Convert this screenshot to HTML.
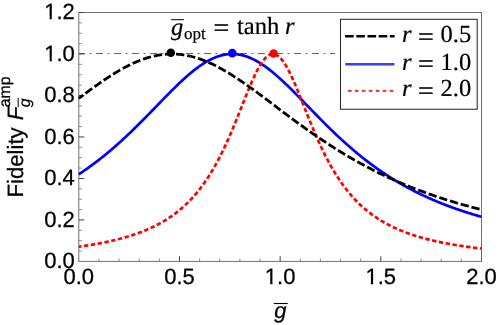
<!DOCTYPE html>
<html><head><meta charset="utf-8">
<style>
html,body{margin:0;padding:0;background:#fff;}
svg{display:block;will-change:transform}
text{text-rendering:geometricPrecision}
.sans{font-family:"Liberation Sans",sans-serif;font-size:22px;fill:#000;stroke:#000;stroke-width:0.25px}
.serif{font-family:"Liberation Serif",serif;font-size:24.5px;fill:#000;stroke:#000;stroke-width:0.2px}
</style></head><body>
<svg width="498" height="325" viewBox="0 0 498 325">
<rect width="498" height="325" fill="#fff"/>
<!-- reference line -->
<line x1="78.80" y1="53.5" x2="335" y2="53.5" stroke="#666" stroke-width="1" stroke-dasharray="7 4.5 2 4.5" stroke-dashoffset="0.8"/>
<!-- frame -->
<rect x="78.80" y="12.50" width="402.70" height="248.90" fill="none" stroke="#707070" stroke-width="1"/>
<line x1="78.80" y1="251.03" x2="82.00" y2="251.03" stroke="#666" stroke-width="0.7"/><line x1="78.80" y1="240.66" x2="82.00" y2="240.66" stroke="#666" stroke-width="0.7"/><line x1="78.80" y1="230.29" x2="82.00" y2="230.29" stroke="#666" stroke-width="0.7"/><line x1="78.80" y1="219.92" x2="84.30" y2="219.92" stroke="#444" stroke-width="1"/><line x1="78.80" y1="209.55" x2="82.00" y2="209.55" stroke="#666" stroke-width="0.7"/><line x1="78.80" y1="199.18" x2="82.00" y2="199.18" stroke="#666" stroke-width="0.7"/><line x1="78.80" y1="188.81" x2="82.00" y2="188.81" stroke="#666" stroke-width="0.7"/><line x1="78.80" y1="178.44" x2="84.30" y2="178.44" stroke="#444" stroke-width="1"/><line x1="78.80" y1="168.07" x2="82.00" y2="168.07" stroke="#666" stroke-width="0.7"/><line x1="78.80" y1="157.70" x2="82.00" y2="157.70" stroke="#666" stroke-width="0.7"/><line x1="78.80" y1="147.33" x2="82.00" y2="147.33" stroke="#666" stroke-width="0.7"/><line x1="78.80" y1="136.96" x2="84.30" y2="136.96" stroke="#444" stroke-width="1"/><line x1="78.80" y1="126.59" x2="82.00" y2="126.59" stroke="#666" stroke-width="0.7"/><line x1="78.80" y1="116.22" x2="82.00" y2="116.22" stroke="#666" stroke-width="0.7"/><line x1="78.80" y1="105.85" x2="82.00" y2="105.85" stroke="#666" stroke-width="0.7"/><line x1="78.80" y1="95.48" x2="84.30" y2="95.48" stroke="#444" stroke-width="1"/><line x1="78.80" y1="85.11" x2="82.00" y2="85.11" stroke="#666" stroke-width="0.7"/><line x1="78.80" y1="74.74" x2="82.00" y2="74.74" stroke="#666" stroke-width="0.7"/><line x1="78.80" y1="64.37" x2="82.00" y2="64.37" stroke="#666" stroke-width="0.7"/><line x1="78.80" y1="54.00" x2="84.30" y2="54.00" stroke="#444" stroke-width="1"/><line x1="78.80" y1="43.63" x2="82.00" y2="43.63" stroke="#666" stroke-width="0.7"/><line x1="78.80" y1="33.26" x2="82.00" y2="33.26" stroke="#666" stroke-width="0.7"/><line x1="78.80" y1="22.89" x2="82.00" y2="22.89" stroke="#666" stroke-width="0.7"/><line x1="78.80" y1="12.52" x2="84.30" y2="12.52" stroke="#444" stroke-width="1"/><line x1="98.94" y1="261.40" x2="98.94" y2="258.40" stroke="#666" stroke-width="0.7"/><line x1="119.07" y1="261.40" x2="119.07" y2="258.40" stroke="#666" stroke-width="0.7"/><line x1="139.21" y1="261.40" x2="139.21" y2="258.40" stroke="#666" stroke-width="0.7"/><line x1="159.34" y1="261.40" x2="159.34" y2="258.40" stroke="#666" stroke-width="0.7"/><line x1="179.47" y1="261.40" x2="179.47" y2="256.20" stroke="#444" stroke-width="1"/><line x1="199.61" y1="261.40" x2="199.61" y2="258.40" stroke="#666" stroke-width="0.7"/><line x1="219.75" y1="261.40" x2="219.75" y2="258.40" stroke="#666" stroke-width="0.7"/><line x1="239.88" y1="261.40" x2="239.88" y2="258.40" stroke="#666" stroke-width="0.7"/><line x1="260.01" y1="261.40" x2="260.01" y2="258.40" stroke="#666" stroke-width="0.7"/><line x1="280.15" y1="261.40" x2="280.15" y2="256.20" stroke="#444" stroke-width="1"/><line x1="300.29" y1="261.40" x2="300.29" y2="258.40" stroke="#666" stroke-width="0.7"/><line x1="320.42" y1="261.40" x2="320.42" y2="258.40" stroke="#666" stroke-width="0.7"/><line x1="340.56" y1="261.40" x2="340.56" y2="258.40" stroke="#666" stroke-width="0.7"/><line x1="360.69" y1="261.40" x2="360.69" y2="258.40" stroke="#666" stroke-width="0.7"/><line x1="380.82" y1="261.40" x2="380.82" y2="256.20" stroke="#444" stroke-width="1"/><line x1="400.96" y1="261.40" x2="400.96" y2="258.40" stroke="#666" stroke-width="0.7"/><line x1="421.10" y1="261.40" x2="421.10" y2="258.40" stroke="#666" stroke-width="0.7"/><line x1="441.23" y1="261.40" x2="441.23" y2="258.40" stroke="#666" stroke-width="0.7"/><line x1="461.37" y1="261.40" x2="461.37" y2="258.40" stroke="#666" stroke-width="0.7"/>
<!-- curves -->
<path d="M78.80,174.30 L79.81,173.63 L80.81,172.96 L81.82,172.28 L82.83,171.60 L83.83,170.91 L84.84,170.21 L85.85,169.51 L86.85,168.80 L87.86,168.09 L88.87,167.37 L89.87,166.65 L90.88,165.91 L91.89,165.18 L92.89,164.43 L93.90,163.68 L94.91,162.93 L95.91,162.17 L96.92,161.40 L97.93,160.62 L98.94,159.84 L99.94,159.06 L100.95,158.26 L101.96,157.47 L102.96,156.66 L103.97,155.85 L104.98,155.03 L105.98,154.21 L106.99,153.38 L108.00,152.54 L109.00,151.70 L110.01,150.85 L111.02,150.00 L112.02,149.14 L113.03,148.27 L114.04,147.40 L115.04,146.52 L116.05,145.64 L117.06,144.75 L118.06,143.85 L119.07,142.95 L120.08,142.04 L121.08,141.13 L122.09,140.21 L123.10,139.29 L124.10,138.36 L125.11,137.42 L126.12,136.48 L127.12,135.54 L128.13,134.58 L129.14,133.63 L130.14,132.67 L131.15,131.70 L132.16,130.73 L133.16,129.75 L134.17,128.77 L135.18,127.79 L136.18,126.80 L137.19,125.81 L138.20,124.81 L139.20,123.81 L140.21,122.80 L141.22,121.79 L142.23,120.78 L143.23,119.76 L144.24,118.75 L145.25,117.72 L146.25,116.70 L147.26,115.67 L148.27,114.65 L149.27,113.61 L150.28,112.58 L151.29,111.55 L152.29,110.51 L153.30,109.47 L154.31,108.44 L155.31,107.40 L156.32,106.36 L157.33,105.32 L158.33,104.28 L159.34,103.24 L160.35,102.20 L161.35,101.16 L162.36,100.13 L163.37,99.10 L164.37,98.06 L165.38,97.03 L166.39,96.01 L167.39,94.98 L168.40,93.96 L169.41,92.94 L170.41,91.93 L171.42,90.92 L172.43,89.92 L173.43,88.92 L174.44,87.93 L175.45,86.94 L176.45,85.96 L177.46,84.99 L178.47,84.02 L179.47,83.06 L180.48,82.11 L181.49,81.17 L182.50,80.23 L183.50,79.31 L184.51,78.39 L185.52,77.49 L186.52,76.59 L187.53,75.71 L188.54,74.84 L189.54,73.98 L190.55,73.13 L191.56,72.30 L192.56,71.48 L193.57,70.67 L194.58,69.88 L195.58,69.10 L196.59,68.34 L197.60,67.59 L198.60,66.86 L199.61,66.14 L200.62,65.44 L201.62,64.76 L202.63,64.10 L203.64,63.45 L204.64,62.82 L205.65,62.21 L206.66,61.62 L207.66,61.05 L208.67,60.50 L209.68,59.97 L210.68,59.46 L211.69,58.97 L212.70,58.51 L213.70,58.06 L214.71,57.64 L215.72,57.24 L216.72,56.86 L217.73,56.50 L218.74,56.17 L219.75,55.86 L220.75,55.57 L221.76,55.31 L222.77,55.07 L223.77,54.85 L224.78,54.66 L225.79,54.49 L226.79,54.35 L227.80,54.23 L228.81,54.14 L229.81,54.07 L230.82,54.02 L231.83,54.00 L232.83,54.01 L233.84,54.03 L234.85,54.09 L235.85,54.17 L236.86,54.27 L237.87,54.40 L238.87,54.55 L239.88,54.73 L240.89,54.93 L241.89,55.15 L242.90,55.40 L243.91,55.67 L244.91,55.97 L245.92,56.29 L246.93,56.63 L247.93,56.99 L248.94,57.38 L249.95,57.79 L250.95,58.22 L251.96,58.67 L252.97,59.15 L253.97,59.65 L254.98,60.16 L255.99,60.70 L256.99,61.26 L258.00,61.83 L259.01,62.43 L260.01,63.05 L261.02,63.68 L262.03,64.33 L263.04,65.01 L264.04,65.69 L265.05,66.40 L266.06,67.12 L267.06,67.86 L268.07,68.61 L269.08,69.38 L270.08,70.16 L271.09,70.96 L272.10,71.77 L273.10,72.60 L274.11,73.44 L275.12,74.29 L276.12,75.15 L277.13,76.03 L278.14,76.92 L279.14,77.81 L280.15,78.72 L281.16,79.64 L282.16,80.57 L283.17,81.51 L284.18,82.45 L285.18,83.41 L286.19,84.37 L287.20,85.34 L288.20,86.31 L289.21,87.30 L290.22,88.29 L291.22,89.28 L292.23,90.28 L293.24,91.29 L294.24,92.30 L295.25,93.31 L296.26,94.33 L297.26,95.35 L298.27,96.38 L299.28,97.41 L300.29,98.44 L301.29,99.47 L302.30,100.50 L303.31,101.54 L304.31,102.58 L305.32,103.62 L306.33,104.66 L307.33,105.69 L308.34,106.73 L309.35,107.77 L310.35,108.81 L311.36,109.85 L312.37,110.89 L313.37,111.92 L314.38,112.96 L315.39,113.99 L316.39,115.02 L317.40,116.05 L318.41,117.07 L319.41,118.10 L320.42,119.12 L321.43,120.13 L322.43,121.15 L323.44,122.16 L324.45,123.17 L325.45,124.17 L326.46,125.17 L327.47,126.17 L328.47,127.16 L329.48,128.15 L330.49,129.13 L331.49,130.11 L332.50,131.08 L333.51,132.05 L334.51,133.02 L335.52,133.97 L336.53,134.93 L337.53,135.88 L338.54,136.82 L339.55,137.76 L340.56,138.70 L341.56,139.62 L342.57,140.55 L343.58,141.46 L344.58,142.37 L345.59,143.28 L346.60,144.18 L347.60,145.07 L348.61,145.96 L349.62,146.84 L350.62,147.72 L351.63,148.59 L352.64,149.45 L353.64,150.31 L354.65,151.16 L355.66,152.01 L356.66,152.85 L357.67,153.68 L358.68,154.51 L359.68,155.33 L360.69,156.14 L361.70,156.95 L362.70,157.76 L363.71,158.55 L364.72,159.34 L365.72,160.13 L366.73,160.91 L367.74,161.68 L368.74,162.44 L369.75,163.20 L370.76,163.96 L371.76,164.70 L372.77,165.44 L373.78,166.18 L374.78,166.91 L375.79,167.63 L376.80,168.35 L377.80,169.06 L378.81,169.77 L379.82,170.47 L380.82,171.16 L381.83,171.85 L382.84,172.53 L383.85,173.20 L384.85,173.87 L385.86,174.54 L386.87,175.20 L387.87,175.85 L388.88,176.50 L389.89,177.14 L390.89,177.77 L391.90,178.40 L392.91,179.03 L393.91,179.65 L394.92,180.26 L395.93,180.87 L396.93,181.47 L397.94,182.07 L398.95,182.66 L399.95,183.25 L400.96,183.83 L401.97,184.41 L402.97,184.98 L403.98,185.54 L404.99,186.11 L405.99,186.66 L407.00,187.21 L408.01,187.76 L409.01,188.30 L410.02,188.84 L411.03,189.37 L412.03,189.90 L413.04,190.42 L414.05,190.94 L415.05,191.45 L416.06,191.96 L417.07,192.46 L418.07,192.96 L419.08,193.45 L420.09,193.94 L421.09,194.43 L422.10,194.91 L423.11,195.39 L424.12,195.86 L425.12,196.33 L426.13,196.79 L427.14,197.25 L428.14,197.70 L429.15,198.16 L430.16,198.60 L431.16,199.05 L432.17,199.49 L433.18,199.92 L434.18,200.35 L435.19,200.78 L436.20,201.20 L437.20,201.62 L438.21,202.04 L439.22,202.45 L440.22,202.86 L441.23,203.26 L442.24,203.67 L443.24,204.06 L444.25,204.46 L445.26,204.85 L446.26,205.23 L447.27,205.62 L448.28,206.00 L449.28,206.37 L450.29,206.75 L451.30,207.12 L452.30,207.48 L453.31,207.85 L454.32,208.21 L455.32,208.56 L456.33,208.92 L457.34,209.27 L458.34,209.62 L459.35,209.96 L460.36,210.30 L461.37,210.64 L462.37,210.97 L463.38,211.31 L464.39,211.64 L465.39,211.96 L466.40,212.29 L467.41,212.61 L468.41,212.92 L469.42,213.24 L470.43,213.55 L471.43,213.86 L472.44,214.17 L473.45,214.47 L474.45,214.78 L475.46,215.07 L476.47,215.37 L477.47,215.66 L478.48,215.96 L479.49,216.24 L480.49,216.53 L481.50,216.81" fill="none" stroke="#0000ff" stroke-width="2.7"/>
<path d="M78.80,246.75 L79.81,246.60 L80.81,246.46 L81.82,246.31 L82.83,246.17 L83.83,246.02 L84.84,245.86 L85.85,245.71 L86.85,245.55 L87.86,245.39 L88.87,245.23 L89.87,245.06 L90.88,244.90 L91.89,244.73 L92.89,244.56 L93.90,244.38 L94.91,244.20 L95.91,244.03 L96.92,243.84 L97.93,243.66 L98.94,243.47 L99.94,243.28 L100.95,243.08 L101.96,242.89 L102.96,242.69 L103.97,242.48 L104.98,242.28 L105.98,242.07 L106.99,241.85 L108.00,241.64 L109.00,241.42 L110.01,241.19 L111.02,240.97 L112.02,240.74 L113.03,240.50 L114.04,240.26 L115.04,240.02 L116.05,239.77 L117.06,239.52 L118.06,239.27 L119.07,239.01 L120.08,238.74 L121.08,238.48 L122.09,238.20 L123.10,237.93 L124.10,237.64 L125.11,237.36 L126.12,237.06 L127.12,236.77 L128.13,236.47 L129.14,236.16 L130.14,235.84 L131.15,235.53 L132.16,235.20 L133.16,234.87 L134.17,234.53 L135.18,234.19 L136.18,233.84 L137.19,233.49 L138.20,233.13 L139.20,232.76 L140.21,232.38 L141.22,232.00 L142.23,231.61 L143.23,231.21 L144.24,230.81 L145.25,230.40 L146.25,229.98 L147.26,229.55 L148.27,229.11 L149.27,228.67 L150.28,228.22 L151.29,227.75 L152.29,227.28 L153.30,226.80 L154.31,226.31 L155.31,225.81 L156.32,225.30 L157.33,224.78 L158.33,224.25 L159.34,223.71 L160.35,223.16 L161.35,222.59 L162.36,222.02 L163.37,221.43 L164.37,220.83 L165.38,220.22 L166.39,219.60 L167.39,218.96 L168.40,218.31 L169.41,217.64 L170.41,216.96 L171.42,216.27 L172.43,215.56 L173.43,214.84 L174.44,214.10 L175.45,213.35 L176.45,212.58 L177.46,211.79 L178.47,210.98 L179.47,210.16 L180.48,209.32 L181.49,208.46 L182.50,207.58 L183.50,206.69 L184.51,205.77 L185.52,204.83 L186.52,203.87 L187.53,202.89 L188.54,201.89 L189.54,200.87 L190.55,199.82 L191.56,198.75 L192.56,197.66 L193.57,196.54 L194.58,195.39 L195.58,194.22 L196.59,193.03 L197.60,191.81 L198.60,190.56 L199.61,189.28 L200.62,187.97 L201.62,186.63 L202.63,185.27 L203.64,183.87 L204.64,182.45 L205.65,180.99 L206.66,179.50 L207.66,177.98 L208.67,176.42 L209.68,174.83 L210.68,173.21 L211.69,171.55 L212.70,169.86 L213.70,168.13 L214.71,166.37 L215.72,164.57 L216.72,162.73 L217.73,160.86 L218.74,158.95 L219.75,157.01 L220.75,155.02 L221.76,153.00 L222.77,150.95 L223.77,148.86 L224.78,146.73 L225.79,144.57 L226.79,142.37 L227.80,140.14 L228.81,137.88 L229.81,135.58 L230.82,133.25 L231.83,130.89 L232.83,128.51 L233.84,126.10 L234.85,123.66 L235.85,121.20 L236.86,118.72 L237.87,116.23 L238.87,113.72 L239.88,111.20 L240.89,108.67 L241.89,106.14 L242.90,103.60 L243.91,101.07 L244.91,98.55 L245.92,96.04 L246.93,93.55 L247.93,91.08 L248.94,88.64 L249.95,86.24 L250.95,83.87 L251.96,81.55 L252.97,79.28 L253.97,77.07 L254.98,74.92 L255.99,72.84 L256.99,70.84 L258.00,68.93 L259.01,67.10 L260.01,65.37 L261.02,63.75 L262.03,62.23 L263.04,60.82 L264.04,59.54 L265.05,58.38 L266.06,57.34 L267.06,56.44 L268.07,55.68 L269.08,55.06 L270.08,54.58 L271.09,54.24 L272.10,54.05 L273.10,54.00 L274.11,54.10 L275.12,54.35 L276.12,54.75 L277.13,55.28 L278.14,55.96 L279.14,56.78 L280.15,57.73 L281.16,58.81 L282.16,60.02 L283.17,61.36 L284.18,62.81 L285.18,64.37 L286.19,66.04 L287.20,67.80 L288.20,69.66 L289.21,71.61 L290.22,73.64 L291.22,75.75 L292.23,77.92 L293.24,80.15 L294.24,82.45 L295.25,84.79 L296.26,87.17 L297.26,89.59 L298.27,92.04 L299.28,94.52 L300.29,97.02 L301.29,99.53 L302.30,102.06 L303.31,104.59 L304.31,107.12 L305.32,109.65 L306.33,112.18 L307.33,114.70 L308.34,117.20 L309.35,119.69 L310.35,122.16 L311.36,124.61 L312.37,127.04 L313.37,129.44 L314.38,131.81 L315.39,134.16 L316.39,136.48 L317.40,138.76 L318.41,141.01 L319.41,143.23 L320.42,145.41 L321.43,147.56 L322.43,149.68 L323.44,151.75 L324.45,153.79 L325.45,155.80 L326.46,157.77 L327.47,159.70 L328.47,161.59 L329.48,163.45 L330.49,165.27 L331.49,167.06 L332.50,168.81 L333.51,170.52 L334.51,172.20 L335.52,173.84 L336.53,175.45 L337.53,177.03 L338.54,178.57 L339.55,180.08 L340.56,181.56 L341.56,183.01 L342.57,184.42 L343.58,185.80 L344.58,187.16 L345.59,188.48 L346.60,189.78 L347.60,191.04 L348.61,192.28 L349.62,193.50 L350.62,194.68 L351.63,195.84 L352.64,196.98 L353.64,198.08 L354.65,199.17 L355.66,200.23 L356.66,201.27 L357.67,202.28 L358.68,203.28 L359.68,204.25 L360.69,205.20 L361.70,206.13 L362.70,207.04 L363.71,207.93 L364.72,208.80 L365.72,209.65 L366.73,210.48 L367.74,211.30 L368.74,212.10 L369.75,212.88 L370.76,213.64 L371.76,214.39 L372.77,215.12 L373.78,215.84 L374.78,216.54 L375.79,217.23 L376.80,217.90 L377.80,218.56 L378.81,219.21 L379.82,219.84 L380.82,220.46 L381.83,221.07 L382.84,221.66 L383.85,222.24 L384.85,222.81 L385.86,223.37 L386.87,223.92 L387.87,224.46 L388.88,224.99 L389.89,225.50 L390.89,226.01 L391.90,226.50 L392.91,226.99 L393.91,227.47 L394.92,227.93 L395.93,228.39 L396.93,228.84 L397.94,229.28 L398.95,229.72 L399.95,230.14 L400.96,230.56 L401.97,230.97 L402.97,231.37 L403.98,231.76 L404.99,232.15 L405.99,232.53 L407.00,232.90 L408.01,233.27 L409.01,233.63 L410.02,233.98 L411.03,234.33 L412.03,234.67 L413.04,235.00 L414.05,235.33 L415.05,235.65 L416.06,235.97 L417.07,236.28 L418.07,236.58 L419.08,236.88 L420.09,237.18 L421.09,237.47 L422.10,237.75 L423.11,238.03 L424.12,238.31 L425.12,238.58 L426.13,238.85 L427.14,239.11 L428.14,239.37 L429.15,239.62 L430.16,239.87 L431.16,240.11 L432.17,240.36 L433.18,240.59 L434.18,240.83 L435.19,241.06 L436.20,241.28 L437.20,241.50 L438.21,241.72 L439.22,241.94 L440.22,242.15 L441.23,242.36 L442.24,242.56 L443.24,242.77 L444.25,242.96 L445.26,243.16 L446.26,243.35 L447.27,243.54 L448.28,243.73 L449.28,243.91 L450.29,244.10 L451.30,244.27 L452.30,244.45 L453.31,244.62 L454.32,244.79 L455.32,244.96 L456.33,245.13 L457.34,245.29 L458.34,245.45 L459.35,245.61 L460.36,245.77 L461.37,245.92 L462.37,246.07 L463.38,246.22 L464.39,246.37 L465.39,246.52 L466.40,246.66 L467.41,246.80 L468.41,246.94 L469.42,247.08 L470.43,247.21 L471.43,247.35 L472.44,247.48 L473.45,247.61 L474.45,247.74 L475.46,247.87 L476.47,247.99 L477.47,248.11 L478.48,248.24 L479.49,248.36 L480.49,248.47 L481.50,248.59" fill="none" stroke="#ff0000" stroke-width="2.7" stroke-dasharray="4.4 2.521" stroke-dashoffset="1.7"/>
<path d="M78.80,98.29 L79.81,97.54 L80.81,96.79 L81.82,96.04 L82.83,95.29 L83.83,94.54 L84.84,93.79 L85.85,93.05 L86.85,92.31 L87.86,91.57 L88.87,90.84 L89.87,90.10 L90.88,89.37 L91.89,88.64 L92.89,87.92 L93.90,87.20 L94.91,86.48 L95.91,85.76 L96.92,85.05 L97.93,84.34 L98.94,83.64 L99.94,82.94 L100.95,82.24 L101.96,81.55 L102.96,80.87 L103.97,80.19 L104.98,79.51 L105.98,78.84 L106.99,78.17 L108.00,77.51 L109.00,76.86 L110.01,76.21 L111.02,75.57 L112.02,74.93 L113.03,74.30 L114.04,73.68 L115.04,73.06 L116.05,72.45 L117.06,71.85 L118.06,71.25 L119.07,70.66 L120.08,70.08 L121.08,69.51 L122.09,68.94 L123.10,68.39 L124.10,67.84 L125.11,67.30 L126.12,66.77 L127.12,66.24 L128.13,65.73 L129.14,65.22 L130.14,64.73 L131.15,64.24 L132.16,63.76 L133.16,63.30 L134.17,62.84 L135.18,62.39 L136.18,61.96 L137.19,61.53 L138.20,61.11 L139.20,60.71 L140.21,60.31 L141.22,59.93 L142.23,59.55 L143.23,59.19 L144.24,58.84 L145.25,58.50 L146.25,58.18 L147.26,57.86 L148.27,57.56 L149.27,57.26 L150.28,56.98 L151.29,56.71 L152.29,56.46 L153.30,56.21 L154.31,55.98 L155.31,55.76 L156.32,55.56 L157.33,55.36 L158.33,55.18 L159.34,55.01 L160.35,54.86 L161.35,54.71 L162.36,54.58 L163.37,54.47 L164.37,54.36 L165.38,54.27 L166.39,54.19 L167.39,54.13 L168.40,54.08 L169.41,54.04 L170.41,54.01 L171.42,54.00 L172.43,54.00 L173.43,54.02 L174.44,54.04 L175.45,54.08 L176.45,54.14 L177.46,54.20 L178.47,54.28 L179.47,54.38 L180.48,54.48 L181.49,54.60 L182.50,54.73 L183.50,54.88 L184.51,55.04 L185.52,55.21 L186.52,55.39 L187.53,55.59 L188.54,55.80 L189.54,56.02 L190.55,56.25 L191.56,56.50 L192.56,56.75 L193.57,57.02 L194.58,57.31 L195.58,57.60 L196.59,57.91 L197.60,58.22 L198.60,58.55 L199.61,58.90 L200.62,59.25 L201.62,59.61 L202.63,59.99 L203.64,60.37 L204.64,60.77 L205.65,61.18 L206.66,61.59 L207.66,62.02 L208.67,62.46 L209.68,62.91 L210.68,63.37 L211.69,63.84 L212.70,64.32 L213.70,64.80 L214.71,65.30 L215.72,65.81 L216.72,66.32 L217.73,66.85 L218.74,67.38 L219.75,67.92 L220.75,68.47 L221.76,69.03 L222.77,69.60 L223.77,70.17 L224.78,70.75 L225.79,71.34 L226.79,71.94 L227.80,72.54 L228.81,73.15 L229.81,73.77 L230.82,74.40 L231.83,75.03 L232.83,75.67 L233.84,76.31 L234.85,76.96 L235.85,77.61 L236.86,78.28 L237.87,78.94 L238.87,79.61 L239.88,80.29 L240.89,80.97 L241.89,81.66 L242.90,82.35 L243.91,83.05 L244.91,83.75 L245.92,84.45 L246.93,85.16 L247.93,85.87 L248.94,86.59 L249.95,87.31 L250.95,88.03 L251.96,88.75 L252.97,89.48 L253.97,90.21 L254.98,90.95 L255.99,91.68 L256.99,92.42 L258.00,93.16 L259.01,93.91 L260.01,94.65 L261.02,95.40 L262.03,96.15 L263.04,96.90 L264.04,97.65 L265.05,98.41 L266.06,99.16 L267.06,99.92 L268.07,100.67 L269.08,101.43 L270.08,102.19 L271.09,102.95 L272.10,103.71 L273.10,104.46 L274.11,105.22 L275.12,105.98 L276.12,106.74 L277.13,107.50 L278.14,108.26 L279.14,109.02 L280.15,109.78 L281.16,110.54 L282.16,111.29 L283.17,112.05 L284.18,112.81 L285.18,113.56 L286.19,114.31 L287.20,115.07 L288.20,115.82 L289.21,116.57 L290.22,117.32 L291.22,118.06 L292.23,118.81 L293.24,119.56 L294.24,120.30 L295.25,121.04 L296.26,121.78 L297.26,122.52 L298.27,123.25 L299.28,123.99 L300.29,124.72 L301.29,125.45 L302.30,126.17 L303.31,126.90 L304.31,127.62 L305.32,128.34 L306.33,129.06 L307.33,129.78 L308.34,130.49 L309.35,131.20 L310.35,131.91 L311.36,132.62 L312.37,133.32 L313.37,134.02 L314.38,134.72 L315.39,135.41 L316.39,136.11 L317.40,136.79 L318.41,137.48 L319.41,138.17 L320.42,138.85 L321.43,139.52 L322.43,140.20 L323.44,140.87 L324.45,141.54 L325.45,142.21 L326.46,142.87 L327.47,143.53 L328.47,144.19 L329.48,144.84 L330.49,145.49 L331.49,146.14 L332.50,146.78 L333.51,147.42 L334.51,148.06 L335.52,148.70 L336.53,149.33 L337.53,149.95 L338.54,150.58 L339.55,151.20 L340.56,151.82 L341.56,152.44 L342.57,153.05 L343.58,153.66 L344.58,154.26 L345.59,154.86 L346.60,155.46 L347.60,156.06 L348.61,156.65 L349.62,157.24 L350.62,157.82 L351.63,158.41 L352.64,158.99 L353.64,159.56 L354.65,160.13 L355.66,160.70 L356.66,161.27 L357.67,161.83 L358.68,162.39 L359.68,162.95 L360.69,163.50 L361.70,164.05 L362.70,164.60 L363.71,165.14 L364.72,165.68 L365.72,166.21 L366.73,166.75 L367.74,167.28 L368.74,167.80 L369.75,168.33 L370.76,168.85 L371.76,169.37 L372.77,169.88 L373.78,170.39 L374.78,170.90 L375.79,171.40 L376.80,171.90 L377.80,172.40 L378.81,172.90 L379.82,173.39 L380.82,173.88 L381.83,174.36 L382.84,174.85 L383.85,175.33 L384.85,175.80 L385.86,176.28 L386.87,176.75 L387.87,177.22 L388.88,177.68 L389.89,178.14 L390.89,178.60 L391.90,179.06 L392.91,179.51 L393.91,179.96 L394.92,180.41 L395.93,180.85 L396.93,181.29 L397.94,181.73 L398.95,182.17 L399.95,182.60 L400.96,183.03 L401.97,183.46 L402.97,183.88 L403.98,184.30 L404.99,184.72 L405.99,185.14 L407.00,185.55 L408.01,185.96 L409.01,186.37 L410.02,186.77 L411.03,187.18 L412.03,187.58 L413.04,187.97 L414.05,188.37 L415.05,188.76 L416.06,189.15 L417.07,189.54 L418.07,189.92 L419.08,190.30 L420.09,190.68 L421.09,191.06 L422.10,191.43 L423.11,191.80 L424.12,192.17 L425.12,192.54 L426.13,192.90 L427.14,193.27 L428.14,193.63 L429.15,193.98 L430.16,194.34 L431.16,194.69 L432.17,195.04 L433.18,195.39 L434.18,195.73 L435.19,196.08 L436.20,196.42 L437.20,196.76 L438.21,197.09 L439.22,197.43 L440.22,197.76 L441.23,198.09 L442.24,198.42 L443.24,198.74 L444.25,199.07 L445.26,199.39 L446.26,199.71 L447.27,200.02 L448.28,200.34 L449.28,200.65 L450.29,200.96 L451.30,201.27 L452.30,201.58 L453.31,201.88 L454.32,202.19 L455.32,202.49 L456.33,202.78 L457.34,203.08 L458.34,203.38 L459.35,203.67 L460.36,203.96 L461.37,204.25 L462.37,204.53 L463.38,204.82 L464.39,205.10 L465.39,205.38 L466.40,205.66 L467.41,205.94 L468.41,206.22 L469.42,206.49 L470.43,206.76 L471.43,207.03 L472.44,207.30 L473.45,207.57 L474.45,207.84 L475.46,208.10 L476.47,208.36 L477.47,208.62 L478.48,208.88 L479.49,209.14 L480.49,209.39 L481.50,209.64" fill="none" stroke="#000" stroke-width="2.8" stroke-dasharray="8.3 2.9" stroke-dashoffset="2.9"/>
<circle cx="170.8" cy="52.7" r="4.3" fill="#000"/><circle cx="232.3" cy="53.15" r="4.3" fill="#0000ff"/><circle cx="273.6" cy="53.5" r="4.3" fill="#ff0000"/>
<text x="74.8" y="268.10" text-anchor="end" class="sans">0.0</text><text x="74.8" y="226.62" text-anchor="end" class="sans">0.2</text><text x="74.8" y="185.14" text-anchor="end" class="sans">0.4</text><text x="74.8" y="143.66" text-anchor="end" class="sans">0.6</text><text x="74.8" y="102.18" text-anchor="end" class="sans">0.8</text><text x="74.8" y="60.70" text-anchor="end" class="sans">1.0</text><rect x="44.59" y="58.00" width="5.02" height="4.2" fill="#fff"/><rect x="51.83" y="58.00" width="4.98" height="4.2" fill="#fff"/><text x="74.8" y="19.22" text-anchor="end" class="sans">1.2</text><rect x="44.59" y="16.52" width="5.02" height="4.2" fill="#fff"/><rect x="51.83" y="16.52" width="4.98" height="4.2" fill="#fff"/>
<text x="78.80" y="284.35" text-anchor="middle" class="sans">0.0</text><text x="179.47" y="284.35" text-anchor="middle" class="sans">0.5</text><text x="280.15" y="284.35" text-anchor="middle" class="sans">1.0</text><rect x="265.23" y="281.65" width="5.02" height="4.2" fill="#fff"/><rect x="272.48" y="281.65" width="4.98" height="4.2" fill="#fff"/><text x="380.82" y="284.35" text-anchor="middle" class="sans">1.5</text><rect x="365.91" y="281.65" width="5.02" height="4.2" fill="#fff"/><rect x="373.15" y="281.65" width="4.98" height="4.2" fill="#fff"/><text x="481.50" y="284.35" text-anchor="middle" class="sans">2.0</text>
<!-- title -->
<text x="171" y="34.5" class="serif" font-style="italic">g</text>
<line x1="171.2" y1="19.7" x2="183.9" y2="19.7" stroke="#000" stroke-width="1"/>
<text x="184" y="39.1" class="serif" style="font-size:17px">opt</text>
<text transform="translate(213.59,35.81) scale(1.14,1.04)" class="serif" style="stroke-width:0.32px">=</text>
<text x="236.9" y="34" class="serif" style="font-size:24.6px">tanh</text>
<text x="285" y="34" class="serif" font-style="italic" style="font-size:24.6px">r</text>
<!-- legend -->
<rect x="340.5" y="19.3" width="136.7" height="89.95" fill="#fff" stroke="#2a2a2a" stroke-width="1.05"/>
<line x1="345.1" y1="36.2" x2="394.6" y2="36.2" stroke="#000" stroke-width="2.6" stroke-dasharray="8.6 2.6"/>
<line x1="345.2" y1="64.2" x2="394.5" y2="64.2" stroke="#3c3cff" stroke-width="2.6"/>
<line x1="347.9" y1="90.9" x2="393.5" y2="90.9" stroke="#ff3c3c" stroke-width="2.4" stroke-dasharray="3.7 3.26"/>
<g class="serif">
<text x="402" y="42.3" font-style="italic">r</text><text x="440.6" y="42.3">0.5</text>
<text x="402" y="69.5" font-style="italic">r</text><text x="440.6" y="69.5">1.0</text>
<text x="402" y="96.2" font-style="italic">r</text><text x="440.6" y="96.2">2.0</text>
<text transform="translate(417.89,44.81) scale(1.14,1.04)" class="serif" style="stroke-width:0.32px">=</text><text transform="translate(417.89,72.01) scale(1.14,1.04)" class="serif" style="stroke-width:0.32px">=</text><text transform="translate(417.89,98.71) scale(1.14,1.04)" class="serif" style="stroke-width:0.32px">=</text>
</g>
<!-- x label -->
<text x="274.2" y="317.7" class="sans" font-style="italic">g</text>
<line x1="273.8" y1="303.5" x2="287.7" y2="303.5" stroke="#000" stroke-width="1.1"/>
<!-- y label -->
<g transform="translate(22.7,197.6) rotate(-90)">
<text x="0" y="0" class="sans" style="font-size:22.2px">Fidelity</text>
<text x="77.4" y="0.4" class="sans" font-style="italic" style="font-size:22.2px">F</text>
<text x="90.3" y="-12.4" class="sans" style="font-size:15.8px">amp</text>
<text x="90.3" y="7.4" class="sans" style="font-size:15.8px" font-style="italic">g</text>
<line x1="90.5" y1="-4.5" x2="99.7" y2="-4.5" stroke="#000" stroke-width="1"/>
</g>
</svg>
</body></html>
